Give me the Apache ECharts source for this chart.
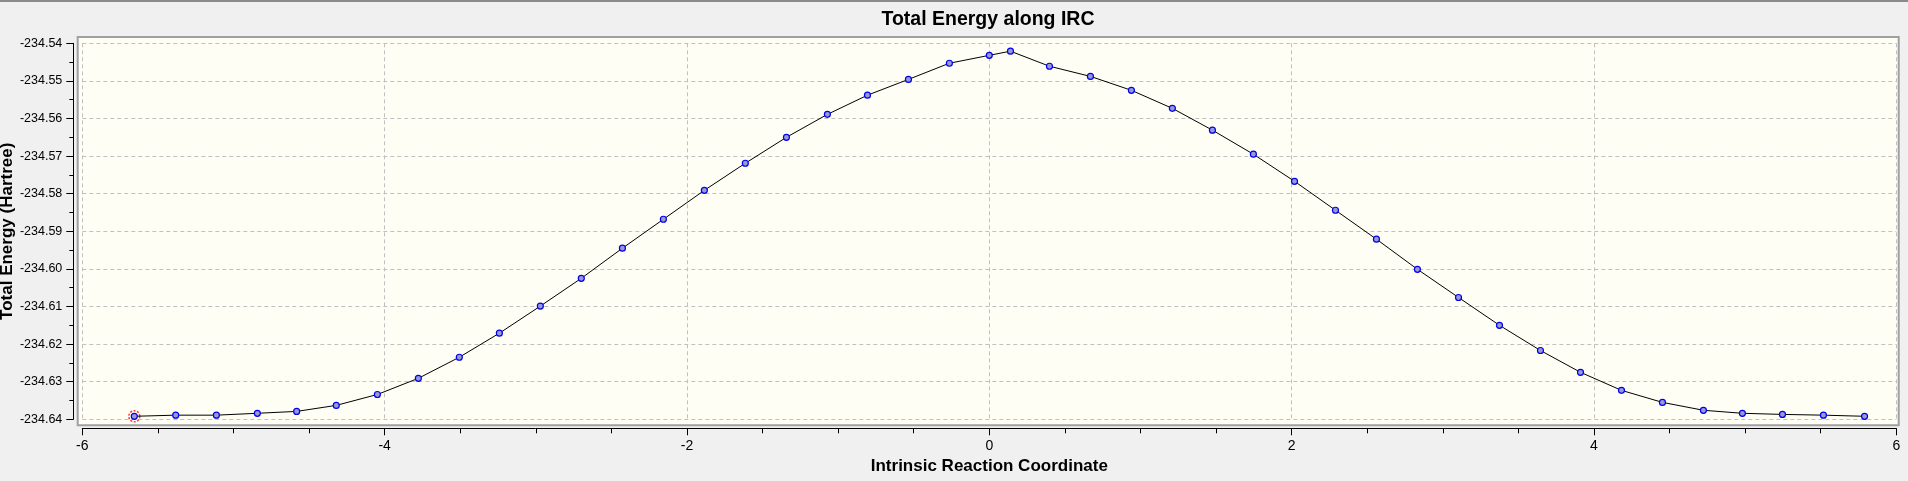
<!DOCTYPE html>
<html>
<head>
<meta charset="utf-8">
<title>Total Energy along IRC</title>
<script src="https://cdn.jsdelivr.net/npm/echarts@6/dist/echarts.min.js"></script>
<style>
    html, body {
        margin: 0;
        padding: 0;
        background: #f0f0f0;
    }
    #chart {
        width: 1908px;
        height: 481px;
    }
</style>
</head>
<body>
<div id="chart"></div>
<script>
    // IRC 坐标
    var irc = [
        -5.656, -5.382, -5.113, -4.842, -4.582, -4.320, -4.048, -3.777, -3.506, -3.241,
        -2.970, -2.699, -2.427, -2.156, -1.885, -1.614, -1.342, -1.071, -0.806, -0.535,
        -0.264, 0.000, 0.140, 0.398, 0.669, 0.940, 1.211, 1.476, 1.747, 2.019,
        2.290, 2.561, 2.832, 3.104, 3.375, 3.646, 3.911, 4.182, 4.453, 4.724,
        4.982, 5.247, 5.518, 5.790
    ];

    // total energy, Hartree
    var energy = [
        -234.6392, -234.6389, -234.6389, -234.6384, -234.6379, -234.6363, -234.6334, -234.6291, -234.6235, -234.6171,
        -234.6099, -234.6025, -234.5945, -234.5868, -234.5791, -234.5719, -234.5650, -234.5589, -234.5538, -234.5496,
        -234.5453, -234.5432, -234.5421, -234.5461, -234.5488, -234.5525, -234.5573, -234.5631, -234.5695, -234.5767,
        -234.5844, -234.5921, -234.6001, -234.6076, -234.6150, -234.6217, -234.6275, -234.6323, -234.6355, -234.6376,
        -234.6384, -234.6387, -234.6389, -234.6392
    ];

    // axis ranges / ticks
    var X_MIN = -6;
    var X_MAX = 6;
    var X_STEP = 2;
    var Y_MIN = -234.64;
    var Y_MAX = -234.54;
    var Y_STEP = 0.01;

    // which point is highlighted (red dashed ring)
    var CURRENT = 0;

    var FONT = 'Liberation Sans, Arial, sans-serif';

    var points = irc.map(function (x, i) {
        return [x, energy[i]];
    });

    var chart = echarts.init(document.getElementById('chart'));

    var option = {
        backgroundColor: '#f0f0f0',
        animation: false,
        title: {
            text: 'Total Energy along IRC',
            left: 988,
            textAlign: 'center',
            top: 10,
            padding: 0,
            textStyle: {
                fontFamily: FONT,
                fontWeight: 'bold',
                fontSize: 19.5,
                color: '#000'
            }
        },
        graphic: [{
            type: 'rect',
            shape: {x: 0, y: 0, width: 1908, height: 2},
            style: {fill: '#8a8a8a'},
            silent: true
        }],
        grid: [
            // data area, fixed in pixels (no auto shrinking for labels)
            {
                left: 82.3,
                right: 11.7,
                top: 43.3,
                bottom: 61.7,
                containLabel: false,
                outerBoundsMode: 'none',
                show: false
            },
            // framed plot background, a bit larger than the data area
            {
                left: 77.7,
                top: 37,
                width: 1821,
                height: 388.3,
                containLabel: false,
                outerBoundsMode: 'none',
                show: true,
                backgroundColor: '#fefef4',
                borderColor: '#a0a0a0',
                borderWidth: 2
            }
        ],
        xAxis: [
            {
                type: 'value',
                gridIndex: 0,
                min: X_MIN,
                max: X_MAX,
                interval: X_STEP,
                offset: 9,
                name: 'Intrinsic Reaction Coordinate',
                nameLocation: 'middle',
                nameGap: 29,
                nameTextStyle: {
                    fontFamily: FONT,
                    fontWeight: 'bold',
                    fontSize: 17,
                    color: '#000'
                },
                axisLine: {show: true, onZero: false, lineStyle: {color: '#000', width: 1}},
                axisTick: {show: true, length: 7, lineStyle: {color: '#000'}},
                minorTick: {show: true, splitNumber: 4, length: 5, lineStyle: {color: '#000'}},
                axisLabel: {
                    margin: 11,
                    fontFamily: FONT,
                    fontSize: 14,
                    color: '#000'
                },
                splitLine: {
                    show: true,
                    lineStyle: {color: '#c0c0c0', type: [4, 3], width: 1}
                }
            },
            {
                type: 'value',
                gridIndex: 1,
                show: false,
                min: 0,
                max: 1
            }
        ],
        yAxis: [
            {
                type: 'value',
                gridIndex: 0,
                min: Y_MIN,
                max: Y_MAX,
                interval: Y_STEP,
                offset: 9,
                name: 'Total Energy (Hartree)',
                nameLocation: 'middle',
                nameGap: 57,
                nameMoveOverlap: false,
                nameTextStyle: {
                    fontFamily: FONT,
                    fontWeight: 'bold',
                    fontSize: 17,
                    color: '#000'
                },
                axisLine: {show: true, onZero: false, lineStyle: {color: '#000', width: 1}},
                axisTick: {show: true, length: 7, lineStyle: {color: '#000'}},
                minorTick: {show: true, splitNumber: 2, length: 4, lineStyle: {color: '#000'}},
                axisLabel: {
                    margin: 11,
                    fontFamily: FONT,
                    fontSize: 12.5,
                    color: '#000',
                    formatter: function (v) {
                        return v.toFixed(2);
                    }
                },
                splitLine: {
                    show: true,
                    lineStyle: {color: '#c0c0c0', type: [4, 3], width: 1}
                }
            },
            {
                type: 'value',
                gridIndex: 1,
                show: false,
                min: 0,
                max: 1
            }
        ],
        series: [
            {
                name: 'energy',
                type: 'line',
                xAxisIndex: 0,
                yAxisIndex: 0,
                data: points,
                lineStyle: {color: '#000', width: 1},
                symbol: 'circle',
                symbolSize: 6,
                showAllSymbol: true,
                itemStyle: {
                    color: '#9a9ad2',
                    borderColor: '#0000f0',
                    borderWidth: 1.2
                },
                z: 3
            },
            {
                name: 'current',
                type: 'scatter',
                xAxisIndex: 0,
                yAxisIndex: 0,
                data: [points[CURRENT]],
                symbol: 'circle',
                symbolSize: 11,
                itemStyle: {
                    color: 'rgba(0,0,0,0)',
                    borderColor: '#ff0000',
                    borderWidth: 1.5,
                    borderType: [2, 1.5]
                },
                z: 2
            }
        ]
    };

    chart.setOption(option);
</script>
</body>
</html>
